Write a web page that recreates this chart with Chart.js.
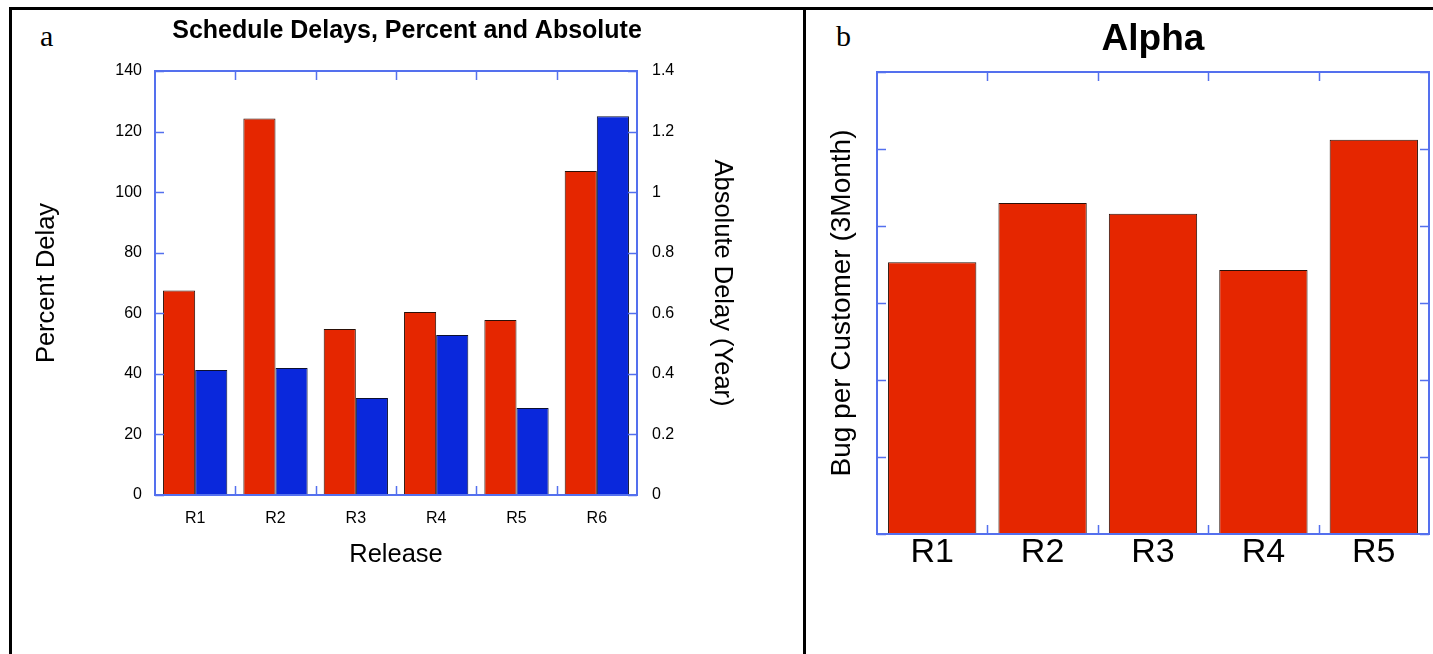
<!DOCTYPE html>
<html>
<head>
<meta charset="utf-8">
<script src="https://cdn.jsdelivr.net/npm/chart.js@4.4.1/dist/chart.umd.min.js"></script>
<style>
  body { margin: 0; background: #fff; width: 1433px; height: 654px; overflow: hidden; position: relative; }
  .rule { position: absolute; background: #000; }
  .tag { position: absolute; font-family: "Liberation Serif", serif; font-size: 30px; color: #000; }
  canvas { position: absolute; }
</style>
</head>
<body>
<div class="rule" style="left:9px; top:7px; width:1424px; height:3px;"></div>
<div class="rule" style="left:9px; top:7px; width:3px; height:647px;"></div>
<div class="rule" style="left:803px; top:7px; width:3px; height:647px;"></div>
<div class="tag" style="left:40px; top:19px;">a</div>
<div class="tag" style="left:836px; top:19px;">b</div>
<canvas id="delay-chart" width="790" height="640" style="left:12px; top:10px;"></canvas>
<canvas id="alpha-chart" width="627" height="640" style="left:806px; top:10px;"></canvas>
<script>
const releases = ["R1", "R2", "R3", "R4", "R5", "R6"];
const percentDelay = [67.5, 124.3, 54.8, 60.4, 57.8, 107];
const absoluteDelay = [0.413, 0.419, 0.32, 0.528, 0.287, 1.251];
const percentTicks = ["0", "20", "40", "60", "80", "100", "120", "140"];
const absoluteTicks = ["0", "0.2", "0.4", "0.6", "0.8", "1", "1.2", "1.4"];

const alphaReleases = ["R1", "R2", "R3", "R4", "R5"];
const bugsPerCustomer = [3.53, 4.3, 4.16, 3.43, 5.12];

const RED = "#e52600";
const BLUE = "#0a28dc";
const AXIS = "#5470ee";
const SANS = "'Liberation Sans', Arial, sans-serif";

// box round the plot, with small inward ticks on every side
const frameTicks = {
  id: "frameTicks",
  afterDatasetsDraw(chart) {
    const { ctx, chartArea: a, scales } = chart;
    const len = 9;
    ctx.save();
    ctx.strokeStyle = AXIS;
    ctx.lineWidth = 1.5;
    ctx.beginPath();
    const x = scales.x;
    for (let i = 1; i < x.ticks.length; i++) {
      const px = Math.round((x.getPixelForTick(i - 1) + x.getPixelForTick(i)) / 2) + 0.5;
      ctx.moveTo(px, a.top);
      ctx.lineTo(px, a.top + len);
      ctx.moveTo(px, a.bottom);
      ctx.lineTo(px, a.bottom - len);
    }
    const y = scales.y;
    y.ticks.forEach((t, i) => {
      const py = Math.round(y.getPixelForTick(i)) + 0.5;
      ctx.moveTo(a.left, py);
      ctx.lineTo(a.left + len, py);
      ctx.moveTo(a.right, py);
      ctx.lineTo(a.right - len, py);
    });
    ctx.stroke();
    ctx.lineWidth = 2;
    ctx.strokeRect(a.left, a.top, a.right - a.left, a.bottom - a.top);
    ctx.restore();
  },
};

const fixWidth = (w) => (scale) => { scale.width = w; };
const fixHeight = (h) => (scale) => { scale.height = h; };

new Chart(document.querySelector("#delay-chart"), {
  type: "bar",
  data: {
    labels: releases,
    datasets: [
      {
        label: "Percent Delay",
        data: percentDelay,
        yAxisID: "y",
        backgroundColor: RED,
        borderColor: "#2a1008",
        borderWidth: 1,
      },
      {
        label: "Absolute Delay (Year)",
        data: absoluteDelay,
        yAxisID: "y1",
        backgroundColor: BLUE,
        borderColor: "#0c1030",
        borderWidth: 1,
      },
    ],
  },
  options: {
    responsive: false,
    animation: false,
    categoryPercentage: 0.8,
    barPercentage: 1,
    layout: { padding: 0 },
    plugins: {
      legend: { display: false },
      tooltip: { enabled: false },
      title: {
        display: true,
        text: "Schedule Delays, Percent and Absolute",
        color: "#000",
        font: { family: SANS, size: 25, weight: "bold", lineHeight: 1.2 },
        padding: { top: 6, bottom: 25 },
      },
    },
    scales: {
      x: {
        afterFit: fixHeight(155),
        grid: { display: false, drawTicks: false },
        border: { display: false },
        ticks: { color: "#000", padding: 14.4, font: { family: SANS, size: 16, lineHeight: 1.2 } },
        title: {
          display: true,
          text: "Release",
          color: "#000",
          font: { family: SANS, size: 25.5, lineHeight: 1.2 },
          padding: { top: 0, bottom: 79.7 },
        },
      },
      y: {
        position: "left",
        min: 0,
        max: 140,
        afterFit: fixWidth(143),
        grid: { display: false, drawTicks: false },
        border: { display: false },
        ticks: {
          stepSize: 20,
          color: "#000",
          padding: 13,
          font: { family: SANS, size: 16 },
          callback: (v, i) => percentTicks[i],
        },
        title: {
          display: true,
          text: "Percent Delay",
          color: "#000",
          font: { family: SANS, size: 25.5, lineHeight: 1.2 },
          padding: { top: 19.7, bottom: 0 },
        },
      },
      y1: {
        position: "right",
        min: 0,
        max: 1.4,
        afterFit: fixWidth(165),
        grid: { display: false, drawTicks: false },
        border: { display: false },
        ticks: {
          stepSize: 0.2,
          color: "#000",
          padding: 15,
          font: { family: SANS, size: 16 },
          callback: (v, i) => absoluteTicks[i],
        },
        title: {
          display: true,
          text: "Absolute Delay (Year)",
          color: "#000",
          font: { family: SANS, size: 25.5, lineHeight: 1.2 },
          padding: { top: 64.7, bottom: 0 },
        },
      },
    },
  },
  plugins: [frameTicks],
});

new Chart(document.querySelector("#alpha-chart"), {
  type: "bar",
  data: {
    labels: alphaReleases,
    datasets: [
      {
        label: "Bug per Customer (3Month)",
        data: bugsPerCustomer,
        backgroundColor: RED,
        borderColor: "#2a1008",
        borderWidth: 1,
      },
    ],
  },
  options: {
    responsive: false,
    animation: false,
    categoryPercentage: 0.8,
    barPercentage: 1,
    layout: { padding: { left: 0, right: 4, top: 0, bottom: 0 } },
    plugins: {
      legend: { display: false },
      tooltip: { enabled: false },
      title: {
        display: true,
        fullSize: false,
        text: "Alpha",
        color: "#000",
        font: { family: SANS, size: 37, weight: "bold", lineHeight: 1.2 },
        padding: { top: 7.8, bottom: 9.8 },
      },
    },
    scales: {
      x: {
        afterFit: fixHeight(116),
        grid: { display: false, drawTicks: false },
        border: { display: false },
        ticks: { color: "#000", padding: 1.5, font: { family: SANS, size: 34, lineHeight: 1 } },
      },
      y: {
        min: 0,
        max: 6,
        afterFit: fixWidth(71),
        grid: { display: false, drawTicks: false },
        border: { display: false },
        ticks: { stepSize: 1, display: false },
        title: {
          display: true,
          text: "Bug per Customer (3Month)",
          color: "#000",
          font: { family: SANS, size: 28, lineHeight: 1.2 },
          padding: { top: 19.2, bottom: 0 },
        },
      },
    },
  },
  plugins: [frameTicks],
});
</script>
</body>
</html>
